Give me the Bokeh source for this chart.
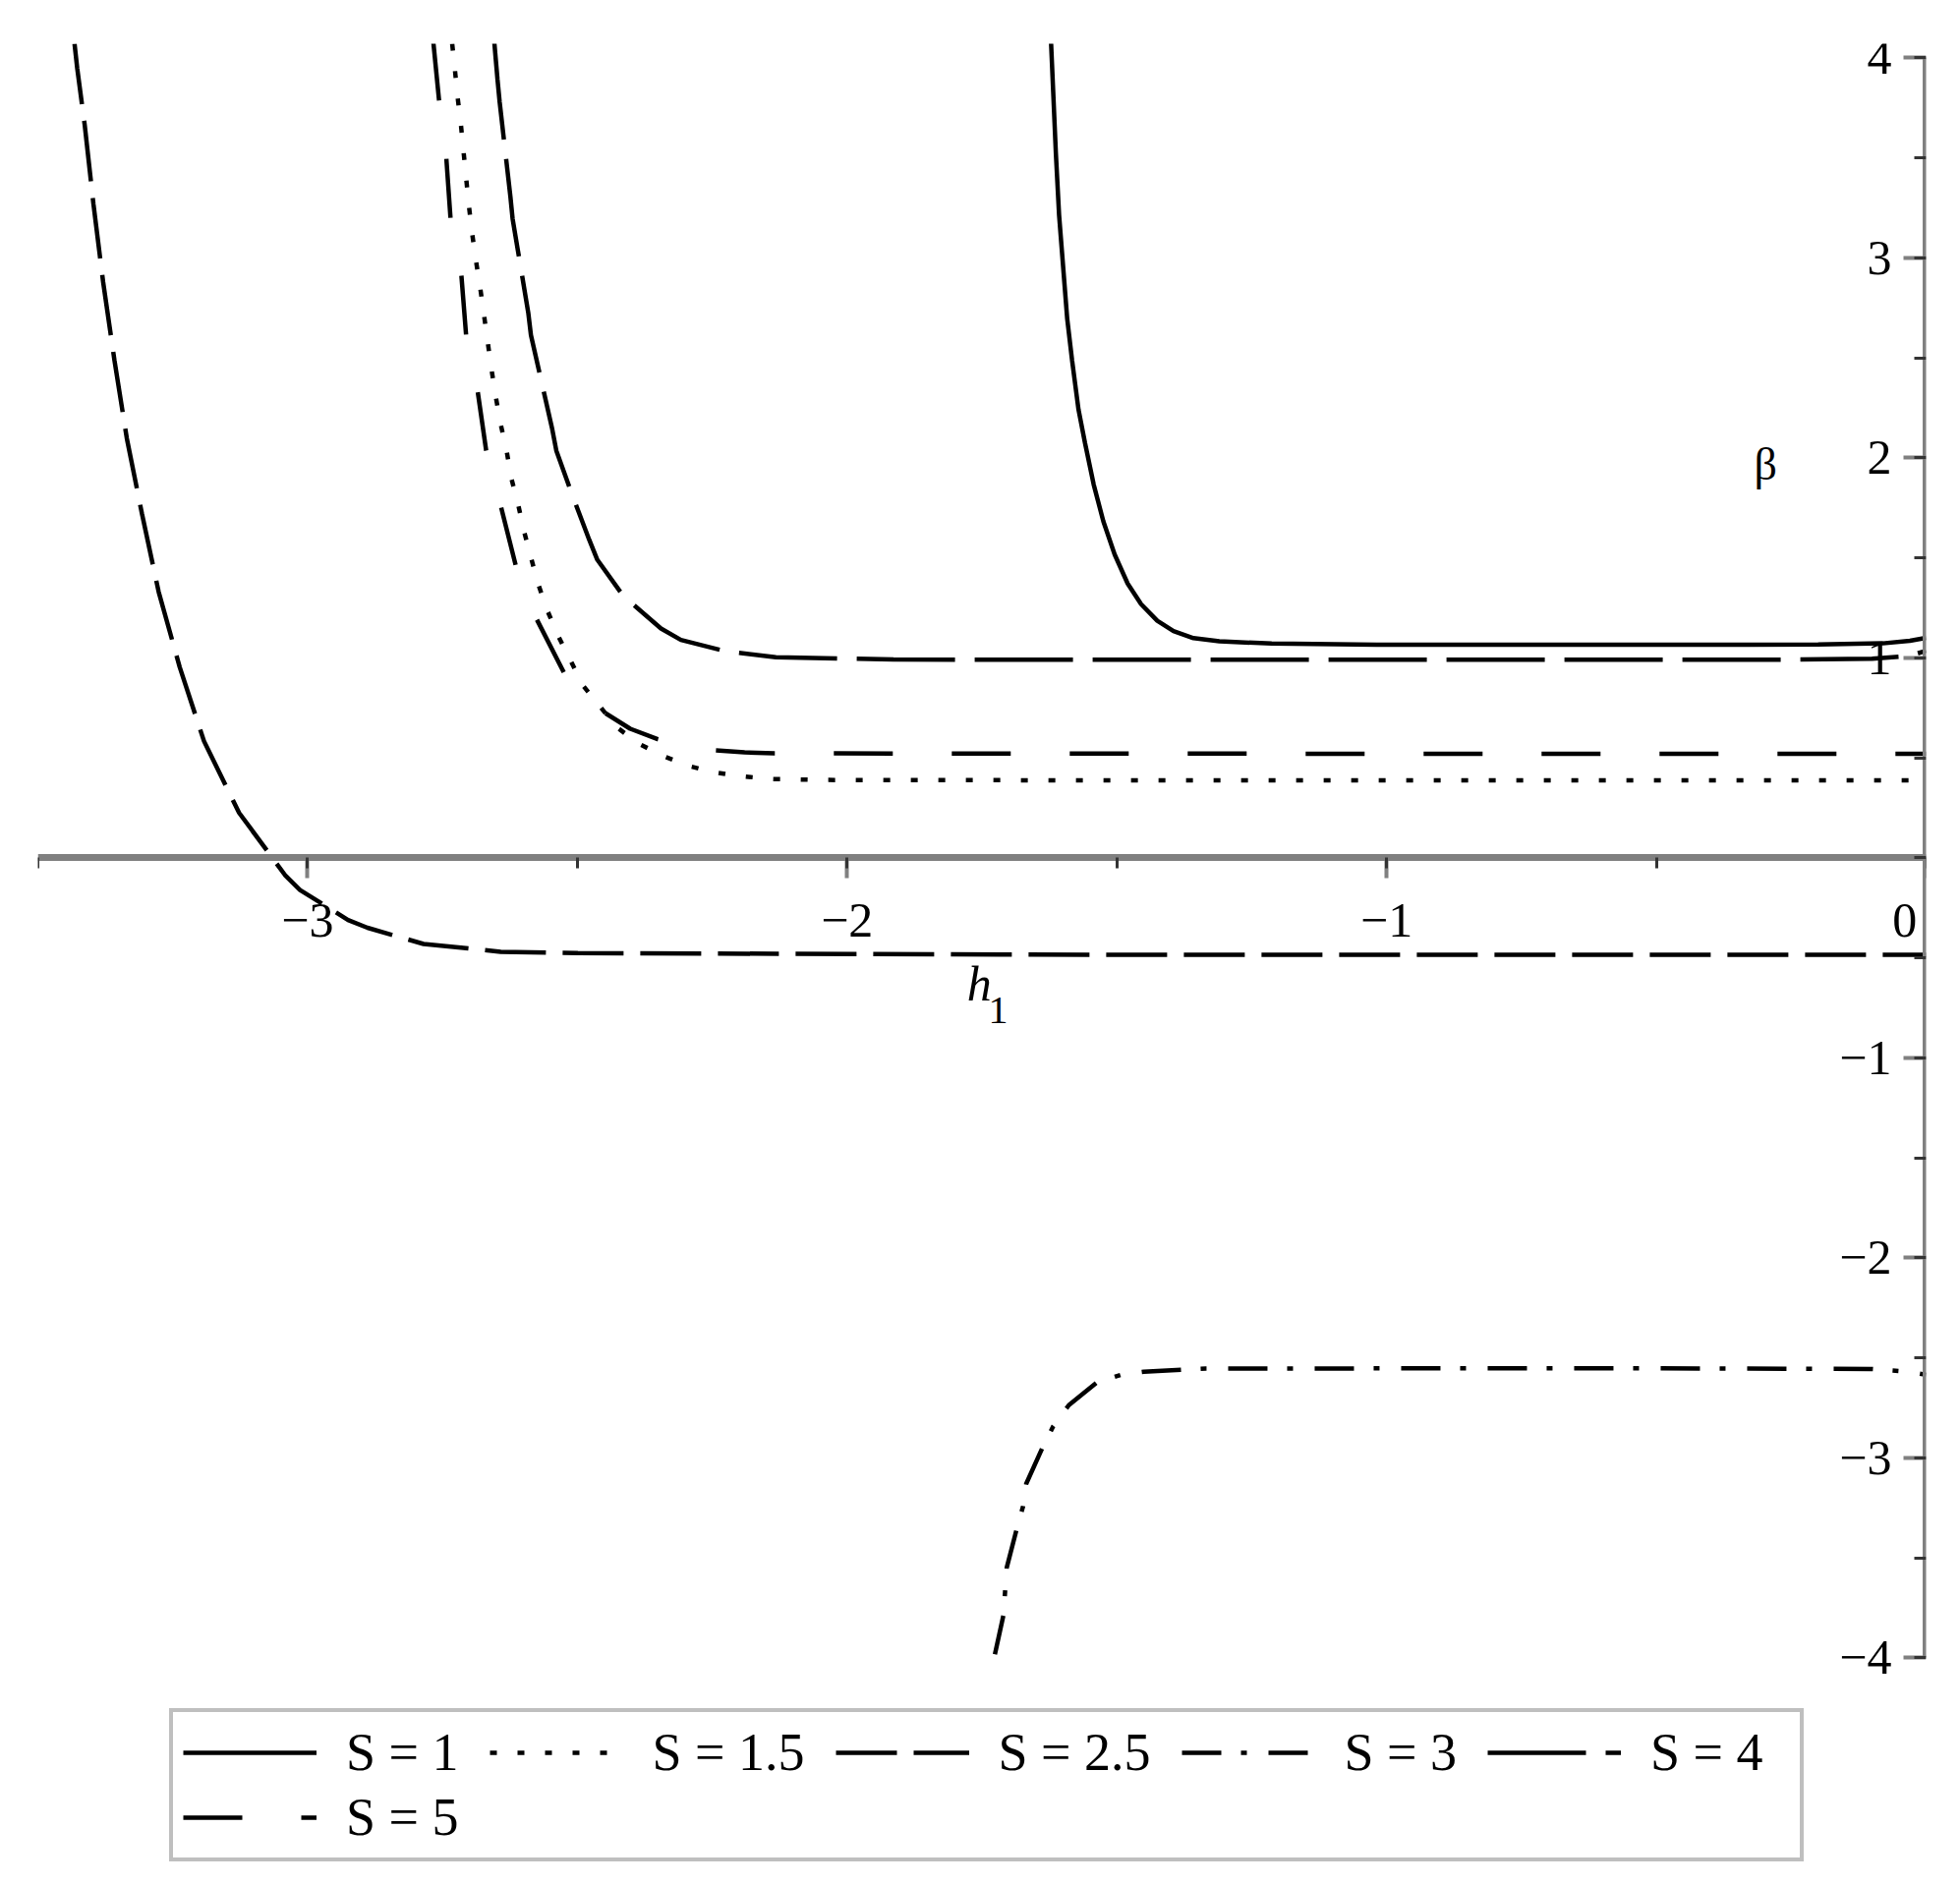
from bokeh.plotting import figure
from bokeh.models import (LinearAxis, SingleIntervalTicker, Legend, LegendItem, Label)
from bokeh.embed import file_html
from bokeh.resources import INLINE

# ---- data (h1 -> beta) ----
s1_x = [-1.622, -1.618, -1.613, -1.607, -1.601, -1.592, -1.583, -1.571, -1.559, -1.543,
        -1.525, -1.504, -1.480, -1.455, -1.425, -1.395, -1.358, -1.310, -1.213, -1.018,
        -0.6, -0.2, -0.08, -0.03, 0.0]
s1_y = [4.08, 3.832, 3.522, 3.212, 3.005, 2.695, 2.488, 2.240, 2.074, 1.867,
        1.682, 1.516, 1.371, 1.268, 1.185, 1.133, 1.098, 1.082, 1.071, 1.065,
        1.065, 1.066, 1.072, 1.085, 1.10]

s15_x = [-2.732, -2.727, -2.722, -2.716, -2.711, -2.706, -2.701, -2.695, -2.688, -2.680,
         -2.673, -2.666, -2.659, -2.651, -2.642, -2.631, -2.623, -2.610, -2.599, -2.586,
         -2.573, -2.556, -2.536, -2.513, -2.490, -2.427, -2.386, -2.339, -2.291, -2.245,
         -2.193, -2.141, -2.044, -1.5, -1.0, -0.5, 0.0]
s15_y = [4.07, 3.942, 3.804, 3.671, 3.533, 3.396, 3.260, 3.122, 2.987, 2.849,
         2.714, 2.576, 2.440, 2.302, 2.167, 2.034, 1.904, 1.770, 1.635, 1.502,
         1.372, 1.239, 1.112, 0.989, 0.863, 0.653, 0.570, 0.507, 0.457, 0.427,
         0.407, 0.394, 0.389, 0.387, 0.387, 0.387, 0.387]

s25_x = [-3.432, -3.427, -3.413, -3.397, -3.379, -3.358, -3.335, -3.307, -3.276, -3.237,
         -3.192, -3.127, -3.042, -3.014, -2.925, -2.889, -2.785, -2.642, -2.499, -1.5,
         -0.5, 0.0]
s25_y = [4.07, 3.947, 3.661, 3.270, 2.879, 2.487, 2.096, 1.720, 1.329, 0.953,
         0.583, 0.225, -0.086, -0.161, -0.311, -0.350, -0.431, -0.470, -0.477, -0.485,
         -0.485, -0.485]

s3_x = [-1.726, -1.710, -1.707, -1.704, -1.686, -1.674, -1.668, -1.638, -1.618, -1.589,
        -1.537, -1.493, -1.450, -1.379, -1.335, -1.0, -0.5, -0.1, -0.03, 0.0]
s3_y = [-3.982, -3.785, -3.663, -3.548, -3.360, -3.245, -3.130, -2.950, -2.843, -2.737,
        -2.623, -2.586, -2.570, -2.560, -2.554, -2.553, -2.553, -2.556, -2.570, -2.585]

s4_x = [-2.654, -2.648, -2.644, -2.624, -2.620, -2.591, -2.586, -2.547, -2.539, -2.509,
        -2.478, -2.463, -2.415, -2.345, -2.308, -2.226, -2.132, -1.914, -1.0, -0.3,
        -0.1, -0.03, 0.0]
s4_y = [4.08, 3.892, 3.779, 3.303, 3.195, 2.726, 2.613, 2.149, 2.036, 1.811,
        1.590, 1.490, 1.310, 1.146, 1.089, 1.033, 1.003, 0.991, 0.99, 0.99,
        0.995, 1.01, 1.035]

s5_x = [-2.767, -2.756, -2.743, -2.735, -2.715, -2.706, -2.685, -2.669, -2.642, -2.614,
        -2.576, -2.524, -2.491, -2.451, -2.402, -2.351, -2.299, -2.246, -2.190, -2.135,
        -1.0, 0.0]
s5_y = [4.08, 3.779, 3.503, 3.195, 2.914, 2.608, 2.337, 2.036, 1.760, 1.460,
        1.196, 0.921, 0.813, 0.728, 0.645, 0.593, 0.557, 0.537, 0.527, 0.522,
        0.520, 0.520]

labels = ["S = 1", "S = 1.5", "S = 2.5", "S = 3", "S = 4", "S = 5"]
x_tick_labels = {-3: "\u22123", -2: "\u22122", -1: "\u22121", 0: "0\u2002\u200a"}
y_tick_labels = {4: "4", 3: "3", 2: "2", 1: "1", 0: "",
                 -1: "\u22121", -2: "\u22122", -3: "\u22123", -4: "\u22124"}

FONT = "Liberation Serif"
AXIS_GRAY = "#808080"

p = figure(frame_width=1921, frame_height=1856,
           x_range=(-3.5, 0.0), y_range=(-5.05, 4.07),
           x_axis_location=None, y_axis_location=None,
           toolbar_location=None, output_backend="svg",
           min_border_left=38, min_border_right=20,
           min_border_top=44, min_border_bottom=6)
p.outline_line_color = None
p.background_fill_color = "white"
p.border_fill_color = "white"
for g in p.grid:
    g.visible = False

# axes through the origin (Maple style)
xaxis = LinearAxis(fixed_location=0,
                   ticker=SingleIntervalTicker(interval=1, num_minor_ticks=2),
                   bounds=(-3.5, 0))
yaxis = LinearAxis(fixed_location=0,
                   ticker=SingleIntervalTicker(interval=1, num_minor_ticks=2),
                   bounds=(-4, 4))
for ax in (xaxis, yaxis):
    ax.axis_line_color = AXIS_GRAY
    ax.axis_line_width = 7
    ax.major_tick_line_color = AXIS_GRAY
    ax.major_tick_line_width = 4
    ax.major_tick_in = 0
    ax.minor_tick_line_color = "#333333"
    ax.minor_tick_line_width = 3
    ax.minor_tick_in = 0
    ax.major_label_text_font = FONT
    ax.major_label_text_font_size = "50px"
    ax.major_label_text_color = "black"
xaxis.major_tick_out = 21
xaxis.minor_tick_out = 11
xaxis.major_label_standoff = 14
xaxis.major_label_overrides = x_tick_labels
yaxis.major_tick_out = 23
yaxis.minor_tick_out = 12
yaxis.major_label_standoff = 12
yaxis.major_label_overrides = y_tick_labels
p.add_layout(xaxis, "below")
p.add_layout(yaxis, "left")

styles = [
    (s1_x, s1_y, "solid"),
    (s15_x, s15_y, "7 21"),
    (s25_x, s25_y, "62 17"),
    (s3_x, s3_y, "40 20 6 22"),
    (s4_x, s4_y, "100 20"),
    (s5_x, s5_y, "60 60"),
]
items = []
for (xs, ys, dash), lab in zip(styles, labels):
    r = p.line(xs, ys, line_color="black", line_width=4.5, line_dash=dash)
    items.append(LegendItem(label=lab + "\u2002", renderers=[r]))

legend = Legend(items=items, orientation="horizontal", ncols=5,
                location=(134, 6),
                border_line_color=AXIS_GRAY, border_line_width=4,
                background_fill_color="white", background_fill_alpha=1,
                padding=10, spacing=4, margin=0,
                label_standoff=30, glyph_width=136, glyph_height=40,
                label_height=40,
                label_text_font=FONT, label_text_font_size="54px",
                label_text_color="black")
p.add_layout(legend, "center")

# axis titles
p.add_layout(Label(x=-1.778, y=-0.767, text="h", text_font=FONT,
                   text_font_style="italic", text_font_size="50px",
                   text_color="black"))
p.add_layout(Label(x=-1.738, y=-0.826, text="1", text_font=FONT,
                   text_font_size="40px", text_color="black"))
p.add_layout(Label(x=-0.319, y=1.84, text="\u03b2", text_font=FONT,
                   text_font_size="46px", text_color="black"))

open("out.html", "w").write(file_html(p, INLINE))
